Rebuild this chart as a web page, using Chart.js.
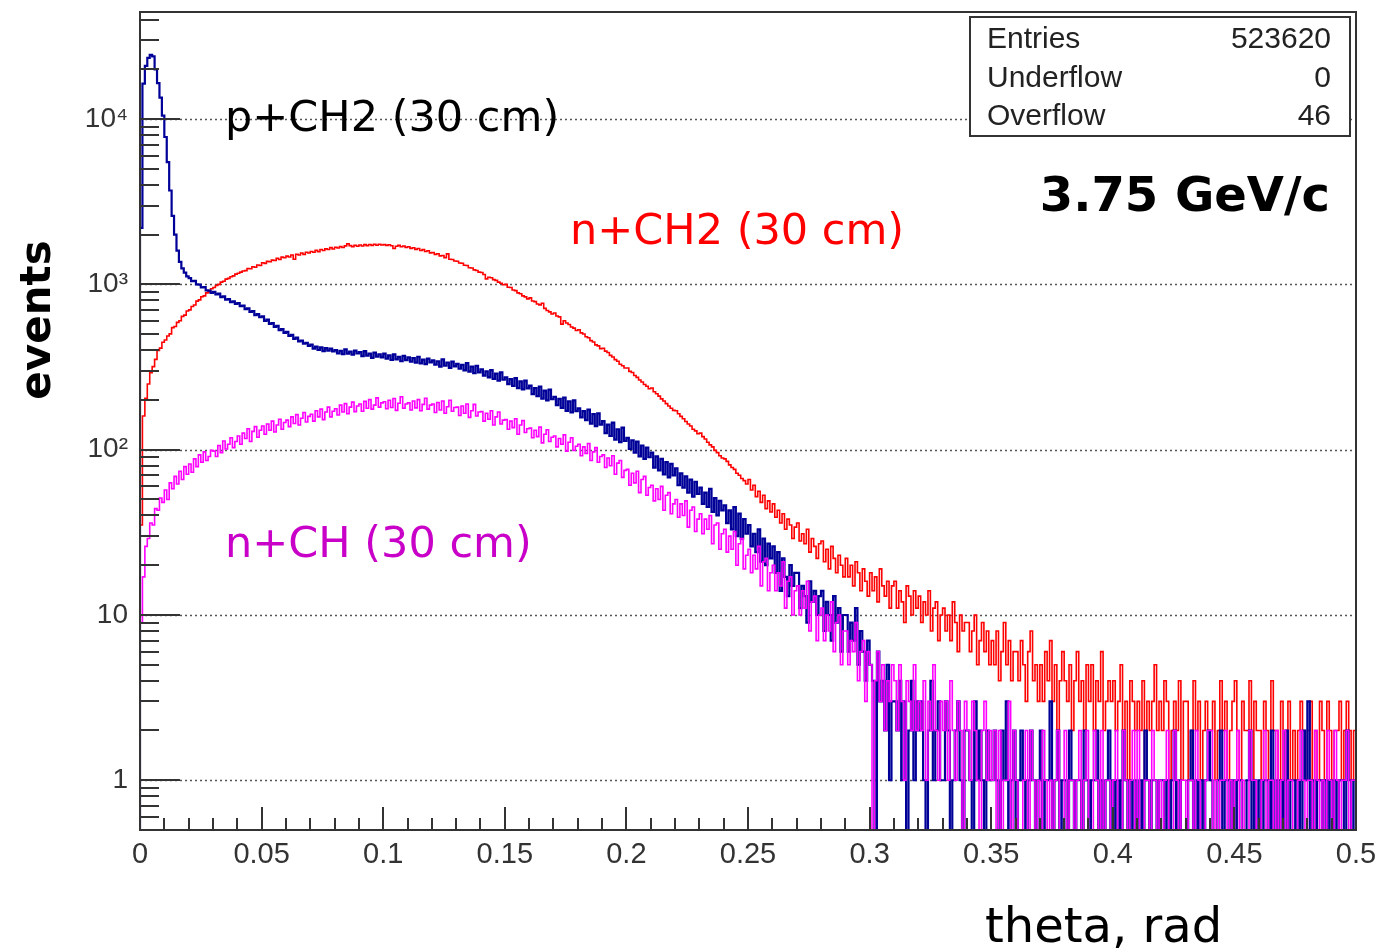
<!DOCTYPE html>
<html>
<head>
<meta charset="utf-8">
<script src="https://cdn.jsdelivr.net/npm/chart.js@4.4.1/dist/chart.umd.min.js"></script>
<style>
  html, body { margin: 0; padding: 0; background: #fff; }
  #wrap { width: 1383px; height: 952px; }
</style>
</head>
<body>
<div id="wrap"><canvas id="thetaChart" width="1383" height="952"></canvas></div>
<script>
// theta distribution, 500 bins of 0.001 rad between 0 and 0.5
const thetaMin = 0, thetaMax = 0.5, binWidth = 0.001;
const xTickLabels = ['0','0.05','0.1','0.15','0.2','0.25','0.3','0.35','0.4','0.45','0.5'];
const yDecades = [1, 10, 100, 1000, 10000];
const yDecadeLabels = ['1', '10', '10²', '10³', '10⁴'];
const statsNames = ['Entries', 'Underflow', 'Overflow'];
const statsValues = ['523620', '0', '46'];

// n+CH2 (30 cm) - red
const nCH2 = [
  35,160,205,250,292,318,352,398,412,447,
  461,488,502,548,556,589,603,641,652,690,
  702,736,751,793,806,842,853,889,902,941,
  958,986,1001,1032,1046,1077,1088,1113,1127,1154,
  1168,1187,1205,1212,1246,1243,1278,1271,1312,1302,
  1352,1341,1379,1372,1403,1396,1438,1416,1462,1449,
  1483,1466,1506,1420,1522,1508,1551,1519,1566,1548,
  1583,1566,1608,1579,1626,1604,1641,1628,1669,1638,
  1677,1661,1693,1672,1712,1760,1718,1694,1726,1703,
  1731,1709,1742,1716,1745,1722,1752,1725,1749,1731,
  1741,1722,1738,1713,1650,1701,1722,1689,1708,1676,
  1691,1652,1668,1629,1651,1606,1623,1581,1598,1553,
  1560,1521,1532,1488,1496,1452,1530,1421,1416,1386,
  1381,1348,1342,1305,1301,1262,1256,1225,1213,1187,
  1180,1148,1080,1106,1098,1069,1058,1032,1017,995,
  1001,962,958,925,917,889,878,853,841,818,
  829,794,787,761,752,770,716,695,682,662,
  671,644,636,575,603,584,572,553,544,526,
  532,509,501,482,476,457,448,431,425,409,
  411,395,387,372,364,351,343,329,322,312,
  312,298,293,281,274,264,257,248,242,234,
  236,224,218,211,203,197,190,184,178,173,
  172,165,159,154,148,143,139,133,130,125,
  126,120,116,111,107,104,99,96,92,89,
  88,85,81,78,76,72,70,67,65,62,
  66,57,61,52,56,48,53,44,49,42,
  47,39,43,36,41,33,38,35,29,34,
  36,28,31,27,33,24,29,26,22,27,
  28,21,25,19,26,22,18,23,20,17,
  22,17,20,15,21,18,14,19,16,13,
  18,14,17,12,19,15,13,16,11,15,
  16,11,14,12,9,15,13,10,14,11,
  13,9,12,10,14,8,11,12,7,10,
  11,8,10,7,12,9,6,10,8,9,
  9,6,8,10,5,7,9,6,8,5,
  7,5,8,4,6,9,5,7,4,6,
  6,4,7,5,3,6,8,4,5,3,
  5,3,6,4,7,3,5,2,4,6,
  4,3,5,2,4,6,3,4,2,5,
  3,5,2,4,3,6,2,3,4,3,
  4,2,3,5,2,3,1,4,3,2,
  3,2,4,1,3,2,3,5,2,3,
  2,4,3,1,2,3,2,4,1,3,
  3,1,2,4,2,3,1,2,3,2,
  2,3,1,2,4,2,3,1,2,3,
  4,2,1,3,2,2,4,1,3,2,
  2,1,3,2,1,4,2,2,1,3,
  1,2,3,1,2,1,2,3,2,1,
  2,3,1,2,1,3,2,1,3,2,
  1,2,2,3,1,2,3,2,1,2
];

// p+CH2 (30 cm) - dark blue
const pCH2 = [
  2200,16400,21000,23500,24500,24000,20000,16500,13500,10500,
  7800,5500,3700,2600,2000,1600,1370,1250,1180,1120,
  1092,1048,1051,1002,997,958,962,921,918,889,
  902,871,879,838,846,808,815,781,789,762,
  771,739,745,708,716,682,689,651,662,633,
  641,602,612,577,584,553,561,528,536,509,
  517,488,496,468,476,452,458,438,443,425,
  432,409,421,401,416,395,412,398,409,393,
  401,382,396,378,405,381,392,376,398,382,
  389,368,395,371,382,359,387,366,378,362,
  381,356,372,349,377,352,364,343,370,348,
  362,341,358,336,365,333,351,329,356,338,
  347,327,343,318,352,322,337,313,341,319,
  331,309,326,302,334,297,318,291,322,294,
  306,281,298,274,303,268,289,262,294,265,
  274,249,267,243,271,236,259,232,262,235,
  244,217,236,211,241,204,228,199,231,202,
  209,186,203,179,207,172,196,168,199,171,
  178,157,171,151,175,144,164,139,166,142,
  149,126,142,121,146,115,133,111,136,113,
  118,101,114,96,112,91,106,88,103,90,
  96,78,91,75,88,71,84,68,82,70,
  77,61,72,59,69,55,66,52,64,54,
  59,47,55,45,58,42,51,40,49,43,
  46,36,43,33,45,30,41,29,38,31,
  35,26,31,24,33,21,29,20,27,22,
  26,18,24,14,22,17,13,20,15,18,
  18,11,15,13,9,16,12,14,10,13,
  14,8,12,10,7,13,9,11,6,10,
  10,6,9,7,11,5,8,6,4,7,
  5,4,0,6,3,4,2,5,1,3,
  3,2,4,1,3,0,2,4,1,3,
  2,3,1,0,2,4,1,2,3,1,
  1,3,2,0,1,2,3,1,0,2,
  2,1,0,3,1,2,1,0,2,1,
  1,2,1,0,2,1,3,0,1,2,
  0,1,2,1,0,1,2,1,0,1,
  2,0,1,1,3,0,1,2,0,1,
  1,0,2,1,0,1,1,0,2,1,
  0,1,1,2,0,1,0,1,2,0,
  1,0,1,0,2,1,0,1,0,1,
  0,1,0,2,1,0,1,1,0,1,
  1,0,1,0,1,2,0,1,0,0,
  0,1,2,0,1,0,1,0,1,2,
  1,0,0,1,2,0,1,1,0,1,
  0,1,1,0,0,1,2,0,1,0,
  1,0,1,1,0,2,0,1,0,1,
  0,2,0,1,1,0,1,0,2,1,
  3,0,1,0,1,1,0,1,0,1,
  0,1,0,1,1,0,2,1,0,1
];

// n+CH (30 cm) - magenta
const nCH = [
  9,17,26,29,36,35,44,43,51,48,
  57,50,63,58,69,62,74,66,79,71,
  82,73,88,79,93,84,97,86,91,99,
  98,91,106,96,113,101,108,118,103,112,
  121,108,126,117,134,112,129,138,119,131,
  139,124,143,131,149,128,141,153,133,146,
  151,138,158,144,163,141,155,168,147,159,
  164,149,172,158,176,152,169,181,158,171,
  177,162,186,169,190,165,181,194,170,184,
  189,171,196,178,201,176,186,206,181,192,
  195,177,199,180,204,173,191,209,178,189,
  192,174,197,179,201,172,188,205,176,186,
  189,168,193,174,197,166,182,199,171,180,
  181,161,184,166,189,157,172,188,160,169,
  170,149,166,153,172,141,158,169,143,151,
  152,133,149,136,154,124,141,150,127,134,
  135,118,131,120,137,110,124,132,112,119,
  121,104,117,108,123,98,111,118,99,105,
  108,92,104,95,109,86,97,103,84,91,
  93,78,89,80,92,71,83,86,68,75,
  76,61,72,63,74,55,66,69,53,59,
  61,49,58,50,60,43,53,55,41,47,
  50,39,47,40,49,34,43,45,32,38,
  41,31,38,33,40,27,35,36,25,31,
  33,24,30,25,32,20,27,29,19,23,
  25,18,23,19,26,15,21,22,14,18,
  20,14,18,15,21,11,16,17,10,14,
  15,10,14,11,16,8,12,13,7,10,
  11,7,10,8,12,6,9,10,5,8,
  8,5,7,6,9,4,6,7,3,6,
  5,0,4,6,3,5,2,4,3,5,
  4,2,5,3,1,4,3,2,5,2,
  3,2,4,1,3,2,5,2,1,3,
  2,3,1,4,2,1,3,2,0,3,
  2,1,3,2,1,0,2,3,1,2,
  1,2,0,2,0,1,1,3,0,2,
  1,0,0,1,2,0,2,1,0,1,
  0,2,1,0,1,0,1,2,0,0,
  2,0,1,1,0,1,2,0,1,2,
  0,0,2,1,0,2,0,1,1,0,
  1,2,0,0,2,1,0,1,2,0,
  2,0,0,1,1,0,2,1,0,1,
  0,1,2,0,0,2,1,0,1,1,
  0,1,1,0,2,1,0,0,1,2,
  2,0,1,0,1,1,2,0,1,0,
  1,2,0,1,0,0,2,1,1,0,
  0,1,2,0,1,1,0,2,0,1,
  2,0,1,1,0,0,1,2,1,0,
  1,1,0,2,1,0,1,0,2,1,
  0,2,1,0,1,1,2,0,1,1
];

// empty bins go below the frame, like ROOT does on a log axis
const zeroFloor = 0.3;

function histPoints(counts) {
  const pts = [{ x: thetaMin, y: zeroFloor }];
  counts.forEach((c, i) => pts.push({ x: thetaMin + i * binWidth, y: c > 0 ? c : zeroFloor }));
  const last = counts[counts.length - 1];
  pts.push({ x: thetaMax, y: last > 0 ? last : zeroFloor });
  return pts;
}

const axisColor = '#333';
const labelFont = '"Liberation Sans", Arial, Helvetica, sans-serif';
const comicFont = '"Comic Sans MS", "DejaVu Sans", sans-serif';

const rootStyle = {
  id: 'rootStyle',
  beforeDatasetsDraw(chart) {
    const { ctx, chartArea: a, scales: { y } } = chart;
    ctx.save();
    ctx.strokeStyle = '#555';
    ctx.lineWidth = 1.5;
    ctx.setLineDash([2, 3]);
    yDecades.forEach(d => {
      const py = Math.round(y.getPixelForValue(d)) + 0.5;
      ctx.beginPath();
      ctx.moveTo(a.left, py);
      ctx.lineTo(a.right, py);
      ctx.stroke();
    });
    ctx.restore();
  },
  afterDatasetsDraw(chart) {
    const { ctx, chartArea: a, scales: { x, y } } = chart;
    ctx.save();
    ctx.strokeStyle = axisColor;
    ctx.lineWidth = 2;
    ctx.beginPath();
    // inward ticks on the log axis
    for (let e = -1; e <= 4; e++) {
      for (let m = 1; m <= 9; m++) {
        const v = m * Math.pow(10, e);
        if (v < y.min || v > y.max) continue;
        const py = Math.round(y.getPixelForValue(v));
        ctx.moveTo(a.left, py);
        ctx.lineTo(a.left + (m === 1 ? 40 : 19), py);
      }
    }
    // inward ticks on theta axis
    for (let i = 0; i <= 50; i++) {
      const px = Math.round(x.getPixelForValue(i * 0.01));
      ctx.moveTo(px, a.bottom);
      ctx.lineTo(px, a.bottom - (i % 5 === 0 ? 23 : 12));
    }
    ctx.stroke();
    ctx.strokeRect(a.left, a.top, a.right - a.left, a.bottom - a.top);
    ctx.restore();
  },
  afterDraw(chart) {
    const { ctx } = chart;
    ctx.save();

    // stats box
    ctx.fillStyle = '#fff';
    ctx.fillRect(970, 17, 380, 119);
    ctx.strokeStyle = axisColor;
    ctx.lineWidth = 2;
    ctx.strokeRect(970, 17, 380, 119);
    ctx.fillStyle = '#222';
    ctx.font = '30px ' + labelFont;
    ctx.textBaseline = 'middle';
    statsNames.forEach((name, i) => {
      const ty = 40 + i * 38.5;
      ctx.textAlign = 'left';
      ctx.fillText(name, 987, ty);
      ctx.textAlign = 'right';
      ctx.fillText(statsValues[i], 1331, ty);
    });

    // curve labels
    ctx.textAlign = 'left';
    ctx.font = '43px ' + comicFont;
    ctx.fillStyle = '#000';
    ctx.fillText('p+CH2 (30 cm)', 225, 120);
    ctx.fillStyle = '#ff0000';
    ctx.fillText('n+CH2 (30 cm)', 570, 233);
    ctx.fillStyle = '#c800c8';
    ctx.fillText('n+CH (30 cm)', 225, 546);

    ctx.fillStyle = '#000';
    ctx.font = 'bold 48px ' + comicFont;
    ctx.textAlign = 'right';
    ctx.fillText('3.75 GeV/c', 1330, 199);

    // axis titles
    ctx.textAlign = 'left';
    ctx.textBaseline = 'alphabetic';
    ctx.font = '48px ' + comicFont;
    ctx.fillText('theta, rad', 985, 942);

    ctx.translate(50, 320);
    ctx.rotate(-Math.PI / 2);
    ctx.textAlign = 'center';
    ctx.font = 'bold 42px ' + comicFont;
    ctx.fillText('events', 0, 0);

    ctx.restore();
  }
};

new Chart(document.getElementById('thetaChart'), {
  type: 'line',
  data: {
    datasets: [
      { label: 'n+CH2 (30 cm)', data: histPoints(nCH2), borderColor: '#ff0000', borderWidth: 1.6, order: 3 },
      { label: 'p+CH2 (30 cm)', data: histPoints(pCH2), borderColor: '#000099', borderWidth: 2.2, order: 2 },
      { label: 'n+CH (30 cm)', data: histPoints(nCH), borderColor: '#ff00ff', borderWidth: 1.6, order: 1 }
    ].map(ds => Object.assign(ds, { stepped: 'before', pointRadius: 0, fill: false, tension: 0 }))
  },
  options: {
    responsive: false,
    animation: false,
    devicePixelRatio: 1,
    layout: { padding: { top: 12, right: 27, left: 0, bottom: 0 } },
    plugins: { legend: { display: false }, tooltip: { enabled: false } },
    scales: {
      x: {
        type: 'linear',
        min: thetaMin,
        max: thetaMax,
        bounds: 'data',
        afterFit: s => { s.height = 122; s.paddingLeft = 0; s.paddingRight = 0; },
        grid: { display: false, drawTicks: false },
        border: { display: false },
        ticks: {
          stepSize: 0.05,
          autoSkip: false,
          maxRotation: 0,
          padding: 8,
          color: axisColor,
          font: { family: labelFont, size: 29 },
          callback: v => xTickLabels[Math.round(v / 0.05)]
        }
      },
      y: {
        type: 'logarithmic',
        min: 0.5,
        max: 44500,
        bounds: 'data',
        afterFit: s => { s.width = 140; s.paddingTop = 0; s.paddingBottom = 0; },
        grid: { display: false, drawTicks: false },
        border: { display: false },
        ticks: {
          autoSkip: false,
          padding: 12,
          color: axisColor,
          font: { family: labelFont, size: 28 },
          callback: v => {
            const k = yDecades.findIndex(d => Math.abs(d - v) < 1e-6 * d);
            return k >= 0 ? yDecadeLabels[k] : '';
          }
        }
      }
    }
  },
  plugins: [rootStyle]
});
</script>
</body>
</html>
